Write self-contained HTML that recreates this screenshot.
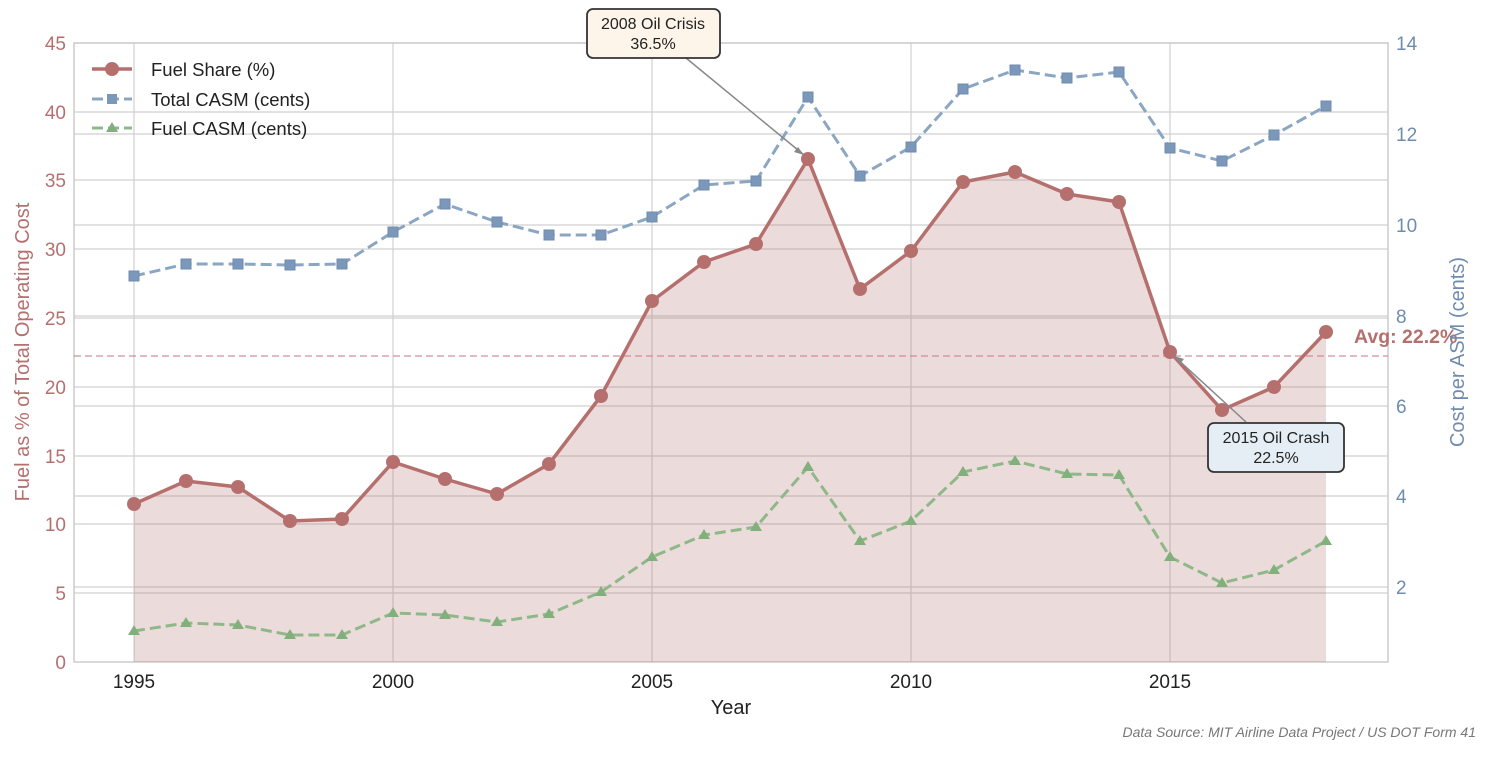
<!DOCTYPE html>
<html><head><meta charset="utf-8"><style>
body{margin:0;background:#fff;}
svg text{font-family:"Liberation Sans","DejaVu Sans",sans-serif;}
</style></head><body>
<svg width="1490" height="753" viewBox="0 0 1490 753" xmlns="http://www.w3.org/2000/svg">
<rect width="1490" height="753" fill="#fff"/>
<g stroke="#d0d0d0" stroke-width="1.2">
<line x1="74" y1="43" x2="1388" y2="43"/><line x1="74" y1="112" x2="1388" y2="112"/><line x1="74" y1="180" x2="1388" y2="180"/><line x1="74" y1="249" x2="1388" y2="249"/><line x1="74" y1="318" x2="1388" y2="318"/><line x1="74" y1="387" x2="1388" y2="387"/><line x1="74" y1="456" x2="1388" y2="456"/><line x1="74" y1="524" x2="1388" y2="524"/><line x1="74" y1="593" x2="1388" y2="593"/>
<line x1="74" y1="134" x2="1388" y2="134"/><line x1="74" y1="225" x2="1388" y2="225"/><line x1="74" y1="316" x2="1388" y2="316"/><line x1="74" y1="406" x2="1388" y2="406"/><line x1="74" y1="496" x2="1388" y2="496"/><line x1="74" y1="587" x2="1388" y2="587"/>
<line x1="134" y1="43" x2="134" y2="662"/><line x1="393" y1="43" x2="393" y2="662"/><line x1="652" y1="43" x2="652" y2="662"/><line x1="911" y1="43" x2="911" y2="662"/><line x1="1170" y1="43" x2="1170" y2="662"/>
</g>
<rect x="74" y="43" width="1314" height="619" fill="none" stroke="#ccc" stroke-width="1.5"/>
<polygon fill="rgba(181,112,110,0.25)" points="134,662 134,504 186,481 238,487 290,521 342,519 393,462 445,479 497,494 549,464 601,396 652,301 704,262 756,244 808,159 860,289 911,251 963,182 1015,172 1067,194 1119,202 1170,352 1222,410 1274,387 1326,332 1326,662"/>
<line x1="74" y1="356" x2="1388" y2="356" stroke="#c97f85" stroke-width="1.5" stroke-dasharray="7,4" opacity="0.7"/>
<polyline fill="none" stroke="#8aa6c3" stroke-width="3" stroke-dasharray="11,5" points="134,276 186,264 238,264 290,265 342,264 393,232 445,204 497,222 549,235 601,235 652,217 704,185 756,181 808,97 860,176 911,147 963,89 1015,70 1067,78 1119,72 1170,148 1222,161 1274,135 1326,106"/>
<g fill="#7b98ba" stroke="#6f8cae" stroke-width="1">
<rect x="129" y="271" width="10" height="10"/><rect x="181" y="259" width="10" height="10"/><rect x="233" y="259" width="10" height="10"/><rect x="285" y="260" width="10" height="10"/><rect x="337" y="259" width="10" height="10"/><rect x="388" y="227" width="10" height="10"/><rect x="440" y="199" width="10" height="10"/><rect x="492" y="217" width="10" height="10"/><rect x="544" y="230" width="10" height="10"/><rect x="596" y="230" width="10" height="10"/><rect x="647" y="212" width="10" height="10"/><rect x="699" y="180" width="10" height="10"/><rect x="751" y="176" width="10" height="10"/><rect x="803" y="92" width="10" height="10"/><rect x="855" y="171" width="10" height="10"/><rect x="906" y="142" width="10" height="10"/><rect x="958" y="84" width="10" height="10"/><rect x="1010" y="65" width="10" height="10"/><rect x="1062" y="73" width="10" height="10"/><rect x="1114" y="67" width="10" height="10"/><rect x="1165" y="143" width="10" height="10"/><rect x="1217" y="156" width="10" height="10"/><rect x="1269" y="130" width="10" height="10"/><rect x="1321" y="101" width="10" height="10"/>
</g>
<polyline fill="none" stroke="#8fb889" stroke-width="3" stroke-dasharray="11,5" points="134,631 186,623 238,625 290,635 342,635 393,613 445,615 497,622 549,614 601,592 652,557 704,535 756,527 808,467 860,541 911,521 963,472 1015,461 1067,474 1119,475 1170,557 1222,583 1274,570 1326,541"/>
<g fill="#82b07c">
<path d="M134 625l6 10h-12z"/><path d="M186 617l6 10h-12z"/><path d="M238 619l6 10h-12z"/><path d="M290 629l6 10h-12z"/><path d="M342 629l6 10h-12z"/><path d="M393 607l6 10h-12z"/><path d="M445 609l6 10h-12z"/><path d="M497 616l6 10h-12z"/><path d="M549 608l6 10h-12z"/><path d="M601 586l6 10h-12z"/><path d="M652 551l6 10h-12z"/><path d="M704 529l6 10h-12z"/><path d="M756 521l6 10h-12z"/><path d="M808 461l6 10h-12z"/><path d="M860 535l6 10h-12z"/><path d="M911 515l6 10h-12z"/><path d="M963 466l6 10h-12z"/><path d="M1015 455l6 10h-12z"/><path d="M1067 468l6 10h-12z"/><path d="M1119 469l6 10h-12z"/><path d="M1170 551l6 10h-12z"/><path d="M1222 577l6 10h-12z"/><path d="M1274 564l6 10h-12z"/><path d="M1326 535l6 10h-12z"/>
</g>
<polyline fill="none" stroke="#b5706e" stroke-width="3.5" points="134,504 186,481 238,487 290,521 342,519 393,462 445,479 497,494 549,464 601,396 652,301 704,262 756,244 808,159 860,289 911,251 963,182 1015,172 1067,194 1119,202 1170,352 1222,410 1274,387 1326,332"/>
<g fill="#b5706e">
<circle cx="134" cy="504" r="7"/><circle cx="186" cy="481" r="7"/><circle cx="238" cy="487" r="7"/><circle cx="290" cy="521" r="7"/><circle cx="342" cy="519" r="7"/><circle cx="393" cy="462" r="7"/><circle cx="445" cy="479" r="7"/><circle cx="497" cy="494" r="7"/><circle cx="549" cy="464" r="7"/><circle cx="601" cy="396" r="7"/><circle cx="652" cy="301" r="7"/><circle cx="704" cy="262" r="7"/><circle cx="756" cy="244" r="7"/><circle cx="808" cy="159" r="7"/><circle cx="860" cy="289" r="7"/><circle cx="911" cy="251" r="7"/><circle cx="963" cy="182" r="7"/><circle cx="1015" cy="172" r="7"/><circle cx="1067" cy="194" r="7"/><circle cx="1119" cy="202" r="7"/><circle cx="1170" cy="352" r="7"/><circle cx="1222" cy="410" r="7"/><circle cx="1274" cy="387" r="7"/><circle cx="1326" cy="332" r="7"/>
</g>
<text x="1354" y="343" font-size="19.5" font-weight="bold" fill="#b5706e">Avg: 22.2%</text>
<line x1="686" y1="58" x2="804" y2="155" stroke="#888" stroke-width="1.5"/>
<path d="M804 155l-10-3 4-5z" fill="#888"/>
<rect x="587" y="9" width="133" height="49" rx="6" fill="#fef5ea" stroke="#333" stroke-width="1.8"/>
<text x="653" y="29" font-size="16" text-anchor="middle" fill="#222">2008 Oil Crisis</text>
<text x="653" y="49" font-size="16" text-anchor="middle" fill="#222">36.5%</text>
<line x1="1246" y1="422" x2="1174" y2="356" stroke="#888" stroke-width="1.5"/>
<path d="M1174 356l10 3-4 5z" fill="#888"/>
<rect x="1208" y="423" width="136" height="49" rx="6" fill="#e6eef5" stroke="#333" stroke-width="1.8"/>
<text x="1276" y="443" font-size="16" text-anchor="middle" fill="#222">2015 Oil Crash</text>
<text x="1276" y="463" font-size="16" text-anchor="middle" fill="#222">22.5%</text>
<line x1="92" y1="69" x2="132" y2="69" stroke="#b5706e" stroke-width="3.5"/><circle cx="112" cy="69" r="7" fill="#b5706e"/>
<text x="151" y="76" font-size="18.5" fill="#222">Fuel Share (%)</text>
<line x1="92" y1="99" x2="132" y2="99" stroke="#8aa6c3" stroke-width="3" stroke-dasharray="11,5"/><rect x="107" y="94" width="10" height="10" fill="#7b98ba"/>
<text x="151" y="106" font-size="18.5" fill="#222">Total CASM (cents)</text>
<line x1="92" y1="128" x2="132" y2="128" stroke="#8fb889" stroke-width="3" stroke-dasharray="11,5"/><path d="M112 122l6 10h-12z" fill="#82b07c"/>
<text x="151" y="135" font-size="18.5" fill="#222">Fuel CASM (cents)</text>
<g font-size="19" fill="#b5706e" text-anchor="end">
<text x="66" y="669">0</text><text x="66" y="600">5</text><text x="66" y="531">10</text><text x="66" y="463">15</text><text x="66" y="394">20</text><text x="66" y="325">25</text><text x="66" y="256">30</text><text x="66" y="187">35</text><text x="66" y="119">40</text><text x="66" y="50">45</text>
</g>
<text transform="translate(29,352) rotate(-90)" font-size="20" fill="#b5706e" text-anchor="middle">Fuel as % of Total Operating Cost</text>
<g font-size="19" fill="#6f8cae">
<text x="1396" y="594">2</text><text x="1396" y="503">4</text><text x="1396" y="413">6</text><text x="1396" y="323">8</text><text x="1396" y="232">10</text><text x="1396" y="141">12</text><text x="1396" y="50">14</text>
</g>
<text transform="translate(1464,352) rotate(-90)" font-size="20" fill="#6f8cae" text-anchor="middle">Cost per ASM (cents)</text>
<g font-size="19" fill="#222" text-anchor="middle">
<text x="134" y="688">1995</text><text x="393" y="688">2000</text><text x="652" y="688">2005</text><text x="911" y="688">2010</text><text x="1170" y="688">2015</text>
</g>
<text x="731" y="714" font-size="20" fill="#222" text-anchor="middle">Year</text>
<text x="1476" y="737" font-size="14" font-style="italic" fill="#777" text-anchor="end">Data Source: MIT Airline Data Project / US DOT Form 41</text>
</svg>
</body></html>
